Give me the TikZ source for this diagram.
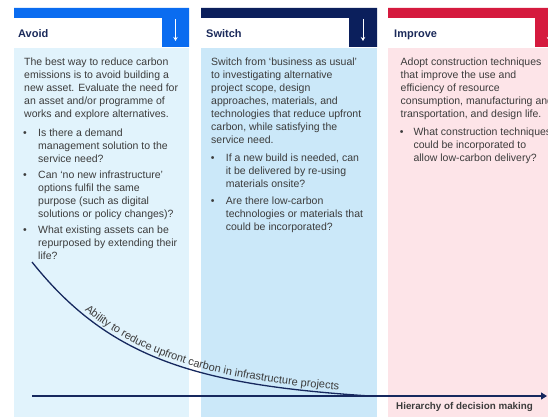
\documentclass[tikz,border=0pt]{standalone}
\usepackage{fontspec}
\setmainfont{Liberation Sans}
\usetikzlibrary{arrows.meta,decorations.text}
\definecolor{avoidblue}{HTML}{0A6CF0}
\definecolor{switchnavy}{HTML}{0B1F5C}
\definecolor{improvered}{HTML}{D51A3E}
\definecolor{avoidbg}{HTML}{E1F3FC}
\definecolor{switchbg}{HTML}{CBE8F9}
\definecolor{improvebg}{HTML}{FDE4E8}
\definecolor{headnavy}{HTML}{1B2A5A}
\definecolor{txtgrey}{HTML}{3C3C3C}
\definecolor{linenavy}{HTML}{16285E}
\begin{document}
\begin{tikzpicture}[x=1pt,y=-1pt,
  head/.style={anchor=base west,inner sep=0pt,font=\fontsize{11}{13}\selectfont\bfseries,text=headnavy},
  txt/.style={anchor=base west,inner sep=0pt,align=left,font=\fontsize{10.5}{13.1}\selectfont,text=txtgrey},
  bul/.style={anchor=base,inner sep=0pt,font=\fontsize{10.5}{13.1}\selectfont,text=txtgrey},
  downarrow/.style={white,line width=0.8pt,-{Stealth[length=4pt,width=4.5pt]}},
  curve/.style={linenavy,line width=1.3pt},
  axis/.style={linenavy,line width=1.3pt,-{Triangle[length=6pt,width=7pt]}}]
\clip (0,0) rectangle (548,417);

% Avoid (text nodes sit on the baseline of their last line)
\fill[avoidbg] (14,48) rectangle (189,417);
\fill[avoidblue] (14,8) rectangle (189,18) (162,18) rectangle (189,47);
\coordinate (avoidtop) at (175.5,19);
\coordinate (avoidbot) at (175.5,41);
\draw[downarrow] (avoidtop) -- (avoidbot);
\node[head] (avoid) at (18,37.5) {Avoid};
\node[txt] (avoidintro) at (24,117.4) {The best way to reduce carbon\\emissions is to avoid building a\\new asset. Evaluate the need for\\an asset and/or programme of\\works and explore alternatives.};
\node[bul] (avoiddot1) at (25,136) {•};
\node[txt] (avoidq1) at (38,162.2) {Is there a demand\\management solution to the\\service need?};
\node[bul] (avoiddot2) at (25,178.3) {•};
\node[txt] (avoidq2) at (38,217.6) {Can ‘no new infrastructure’\\options fulfil the same\\purpose (such as digital\\solutions or policy changes)?};
\node[bul] (avoiddot3) at (25,233.3) {•};
\node[txt] (avoidq3) at (38,259.5) {What existing assets can be\\repurposed by extending their\\life?};

% Switch
\fill[switchbg] (201,48) rectangle (377,417);
\fill[switchnavy] (201,8) rectangle (377,18) (349,18) rectangle (377,47);
\coordinate (switchtop) at (363,19);
\coordinate (switchbot) at (363,41);
\draw[downarrow] (switchtop) -- (switchbot);
\node[head] (switch) at (206,37.5) {Switch};
\node[txt] (switchintro) at (211,143.6) {Switch from ‘business as usual’\\to investigating alternative\\project scope, design\\approaches, materials, and\\technologies that reduce upfront\\carbon, while satisfying the\\service need.};
\node[bul] (switchdot1) at (212.7,161.7) {•};
\node[txt] (switchq1) at (225.7,187.9) {If a new build is needed, can\\it be delivered by re-using\\materials onsite?};
\node[bul] (switchdot2) at (212.7,204) {•};
\node[txt] (switchq2) at (225.7,230.2) {Are there low-carbon\\technologies or materials that\\could be incorporated?};

% Improve
\fill[improvebg] (388,48) rectangle (548,417);
\fill[improvered] (388,8) rectangle (548,18) (535,18) rectangle (548,47);
\coordinate (improvetop) at (549,19);
\coordinate (improvebot) at (549,41);
\draw[downarrow] (improvetop) -- (improvebot);
\node[head] (improve) at (394,37.5) {Improve};
\node[txt] (improveintro) at (400.5,117.4) {Adopt construction techniques\\that improve the use and\\efficiency of resource\\consumption, manufacturing and\\transportation, and design life.};
\node[bul] (improvedot1) at (401.7,135.5) {•};
\node[txt] (improveq1) at (413.3,161.7) {What construction techniques\\could be incorporated to\\allow low-carbon delivery?};

% curve and axis
\coordinate (cstart) at (32,262);
\coordinate (cend) at (370,396);
\draw[curve,postaction={decorate,decoration={text along path,raise=4pt,text align={left indent=72pt},
  text={|\fontsize{11}{13}\selectfont\color{txtgrey}|Ability to reduce upfront carbon in infrastructure projects}}}]
  (cstart) .. controls (110,360) and (200,385) .. (cend);
\coordinate (axstart) at (32,396);
\coordinate (axend) at (547,396);
\draw[axis] (axstart) -- (axend);
\node[anchor=base west,inner sep=0pt,font=\fontsize{9.8}{12}\selectfont\bfseries,text=txtgrey] (hierarchy) at (396,409.5) {Hierarchy of decision making};
\end{tikzpicture}
\end{document}
